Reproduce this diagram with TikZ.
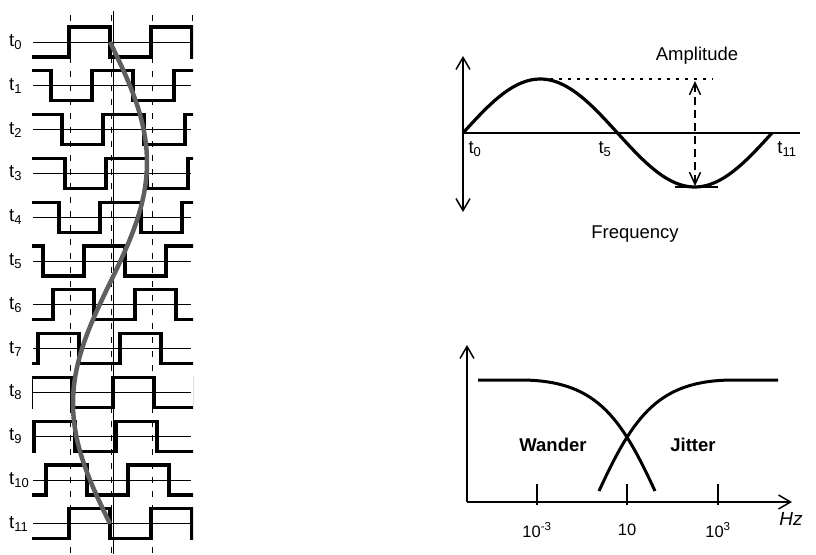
\documentclass[tikz,border=0pt]{standalone}
\usepackage{fontspec}
\setmainfont{Liberation Sans}
\usetikzlibrary{arrows.meta}
\definecolor{driftGray}{RGB}{95,95,95}

\begin{document}
\begin{tikzpicture}[x=1pt,y=-1pt, every node/.style={font=\fontsize{18.5}{21}\selectfont, inner sep=0pt}]
  \tikzset{
    wave/.style={line width=3.2pt, line join=miter},
    midline/.style={line width=0.9pt},
    refdash/.style={line width=0.8pt, dash pattern=on 6pt off 8pt},
    drift/.style={line width=4.5pt, driftGray},
    axis/.style={line width=1.5pt},
    barb/.style={-{Straight Barb[length=12pt,width=14pt]}},
    barbs/.style={{Straight Barb[length=12pt,width=14pt]}-{Straight Barb[length=12pt,width=14pt]}},
    smallbarbs/.style={{Straight Barb[length=12pt,width=11pt]}-{Straight Barb[length=12pt,width=11pt]}},
    ticklab/.style={font=\fontsize{16.5}{19}\selectfont},
  }
  \useasboundingbox (0,0) rectangle (816,554);

  % Clock rows t0..t11, falling edge of each row follows the drift curve
  \foreach \x in {70,111,152} \draw[refdash] (\x,15) -- (\x,554);
  \draw[refdash] (192,15) -- (192,27);
  \draw[midline] (113,11) -- (113,554);

  \begin{scope}
    \clip (32,0) rectangle (193,554);
    \foreach \i/\f in {0/110,1/133,2/144,3/147,4/141,5/125,6/94,7/79,8/72,9/75,10/87,11/110} {
      \pgfmathsetmacro{\m}{42+43.8*\i}
      \draw[midline] (33,\m) -- (191,\m);
      \draw[wave] (\f-164,\m-15) \foreach \k in {1,...,4} { -- ++(0,30) -- ++(41,0) -- ++(0,-30) -- ++(41,0) };
    }
  \end{scope}
  \foreach \i in {0,...,11}
    \node[anchor=west] (lab\i) at (9,{42+43.8*\i}) {t\textsubscript{\i}};

  % Drift curve through the edges
  \draw[drift] plot[domain=0:11, samples=60, smooth] ({110+37*sin(360*\x/11)}, {42+43.8*\x});

  % Sine: amplitude and frequency
  \coordinate (sTop) at (463,56);
  \coordinate (sBot) at (463,212);
  \coordinate (sEnd) at (800,133);
  \draw[axis, barbs] (sBot) -- (sTop);
  \draw[axis] (463,133) -- (sEnd);
  \draw[line width=3.2pt] plot[domain=463:772, samples=90] (\x, {133-54*sin((\x-463)/309*360)});
  \draw[axis, dash pattern=on 3pt off 6pt] (550,79) -- (713,79);
  \coordinate (pk) at (695,81);
  \coordinate (tr) at (695,186);
  \draw[axis, dash pattern=on 8pt off 5pt, smallbarbs] (tr) -- (pk);
  \draw[axis] (675,187) -- (718,187);
  \node (amp) at (697,56) {Amplitude};
  \node (freq) at (635,234) {Frequency};
  \node (st0) at (475,149) {t\textsubscript{0}};
  \node (st5) at (605,149) {t\textsubscript{5}};
  \node (st11) at (787,149) {t\textsubscript{11}};

  % Wander / jitter split
  \coordinate (o) at (467,502);
  \coordinate (yTop) at (467,345);
  \coordinate (xEnd) at (792,502);
  \draw[axis, barb] (o) -- (yTop);
  \draw[axis, barb] (o) -- (xEnd);
  \foreach \x/\lab in {537/{10\textsuperscript{-3}},627/{10},718/{10\textsuperscript{3}}} {
    \draw[axis] (\x,484) -- (\x,505);
    \node[ticklab] (tk\x) at (\x,530) {\lab};
  }
  \node[font=\fontsize{19}{21}\selectfont\itshape] (hz) at (791,519) {Hz};
  \draw[line width=3pt] (478,380) -- (520,380) .. controls (595,380) and (620,415) .. (655,491);
  \draw[line width=3pt] (778,380) -- (734,380) .. controls (659,380) and (634,415) .. (599,491);
  \node[font=\fontsize{18.5}{21}\selectfont\bfseries] (wander) at (553,445) {Wander};
  \node[font=\fontsize{18.5}{21}\selectfont\bfseries] (jitter) at (693,445) {Jitter};
\end{tikzpicture}
\end{document}
